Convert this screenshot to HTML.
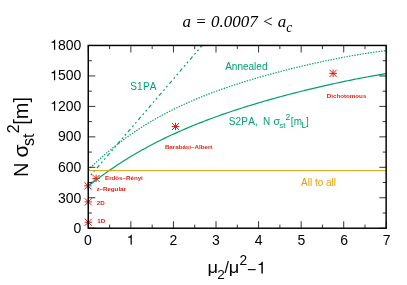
<!DOCTYPE html>
<html><head><meta charset="utf-8"><title>plot</title>
<style>html,body{margin:0;padding:0;background:#fff;}svg{display:block;will-change:transform;}text{font-family:"Liberation Sans",sans-serif;font-kerning:none;}.ser{font-family:"Liberation Serif",serif;font-style:italic;}</style>
</head><body>
<svg width="407" height="285" viewBox="0 0 407 285">
<rect width="407" height="285" fill="#fff"/>
<path d="M84.55,222.25 h7.50 M88.30,218.50 v7.50 M84.75,218.70 l7.10,7.10 M84.75,225.80 l7.10,-7.10 M84.55,201.90 h7.50 M88.30,198.15 v7.50 M84.75,198.35 l7.10,7.10 M84.75,205.45 l7.10,-7.10 M84.20,185.85 h7.50 M87.95,182.10 v7.50 M84.40,182.30 l7.10,7.10 M84.40,189.40 l7.10,-7.10 M92.35,178.45 h7.50 M96.10,174.70 v7.50 M92.55,174.90 l7.10,7.10 M92.55,182.00 l7.10,-7.10 M171.75,126.50 h7.50 M175.50,122.75 v7.50 M171.95,122.95 l7.10,7.10 M171.95,130.05 l7.10,-7.10 M329.35,73.40 h7.50 M333.10,69.65 v7.50 M329.55,69.85 l7.10,7.10 M329.55,76.95 l7.10,-7.10" stroke="#e51e10" stroke-width="1.0" fill="none"/>
<g fill="none" stroke="#009e73" stroke-width="1.2">
<path d="M88.30,186.07 L90.44,184.36 L92.59,182.69 L94.73,181.03 L96.88,179.40 L99.02,177.80 L101.16,176.21 L103.31,174.65 L105.45,173.12 L107.59,171.60 L109.74,170.11 L111.88,168.64 L114.03,167.18 L116.17,165.75 L118.31,164.34 L120.46,162.95 L122.60,161.58 L124.75,160.23 L126.89,158.90 L129.03,157.59 L131.18,156.29 L133.32,155.02 L135.47,153.76 L137.61,152.52 L139.75,151.30 L141.90,150.09 L144.04,148.90 L146.18,147.72 L148.33,146.57 L150.47,145.42 L152.62,144.30 L154.76,143.19 L156.90,142.09 L159.05,141.01 L161.19,139.94 L163.34,138.89 L165.48,137.85 L167.62,136.82 L169.77,135.81 L171.91,134.81 L174.06,133.83 L176.20,132.85 L178.34,131.89 L180.49,130.94 L182.63,130.01 L184.77,129.08 L186.92,128.17 L189.06,127.26 L191.21,126.37 L193.35,125.49 L195.49,124.62 L197.64,123.76 L199.78,122.91 L201.93,122.07 L204.07,121.24 L206.21,120.42 L208.36,119.61 L210.50,118.81 L212.65,118.02 L214.79,117.23 L216.93,116.46 L219.08,115.69 L221.22,114.93 L223.36,114.18 L225.51,113.44 L227.65,112.71 L229.80,111.98 L231.94,111.26 L234.08,110.55 L236.23,109.84 L238.37,109.15 L240.52,108.46 L242.66,107.77 L244.80,107.10 L246.95,106.42 L249.09,105.76 L251.24,105.10 L253.38,104.45 L255.52,103.81 L257.67,103.17 L259.81,102.53 L261.95,101.91 L264.10,101.28 L266.24,100.67 L268.39,100.06 L270.53,99.45 L272.67,98.85 L274.82,98.26 L276.96,97.67 L279.11,97.08 L281.25,96.50 L283.39,95.93 L285.54,95.36 L287.68,94.79 L289.83,94.23 L291.97,93.67 L294.11,93.12 L296.26,92.57 L298.40,92.03 L300.54,91.49 L302.69,90.96 L304.83,90.43 L306.98,89.91 L309.12,89.39 L311.26,88.87 L313.41,88.36 L315.55,87.85 L317.70,87.35 L319.84,86.85 L321.98,86.36 L324.13,85.86 L326.27,85.38 L328.42,84.90 L330.56,84.42 L332.70,83.95 L334.85,83.48 L336.99,83.01 L339.13,82.55 L341.28,82.10 L343.42,81.64 L345.57,81.20 L347.71,80.75 L349.85,80.32 L352.00,79.88 L354.14,79.45 L356.29,79.03 L358.43,78.61 L360.57,78.19 L362.72,77.78 L364.86,77.38 L367.01,76.98 L369.15,76.58 L371.29,76.19 L373.44,75.80 L375.58,75.42 L377.72,75.05 L379.87,74.68 L382.01,74.31 L384.16,73.96 L386.30,73.60"/>
<path d="M88.30,178.16 L202.08,45.50" stroke-dasharray="3.8 2.9 1.8 2.7 1.8 2.9" stroke-dashoffset="2.7"/>
<path d="M88.30,169.80 L90.44,167.69 L92.59,165.63 L94.73,163.60 L96.88,161.61 L99.02,159.65 L101.16,157.73 L103.31,155.85 L105.45,153.99 L107.59,152.17 L109.74,150.38 L111.88,148.63 L114.03,146.90 L116.17,145.21 L118.31,143.54 L120.46,141.91 L122.60,140.30 L124.75,138.73 L126.89,137.18 L129.03,135.65 L131.18,134.16 L133.32,132.69 L135.47,131.24 L137.61,129.83 L139.75,128.43 L141.90,127.06 L144.04,125.72 L146.18,124.39 L148.33,123.09 L150.47,121.82 L152.62,120.56 L154.76,119.33 L156.90,118.11 L159.05,116.92 L161.19,115.75 L163.34,114.59 L165.48,113.46 L167.62,112.34 L169.77,111.25 L171.91,110.17 L174.06,109.10 L176.20,108.06 L178.34,107.03 L180.49,106.02 L182.63,105.02 L184.77,104.04 L186.92,103.08 L189.06,102.13 L191.21,101.19 L193.35,100.27 L195.49,99.36 L197.64,98.47 L199.78,97.59 L201.93,96.72 L204.07,95.86 L206.21,95.02 L208.36,94.19 L210.50,93.37 L212.65,92.56 L214.79,91.76 L216.93,90.98 L219.08,90.20 L221.22,89.43 L223.36,88.68 L225.51,87.93 L227.65,87.20 L229.80,86.47 L231.94,85.75 L234.08,85.04 L236.23,84.34 L238.37,83.65 L240.52,82.96 L242.66,82.29 L244.80,81.62 L246.95,80.96 L249.09,80.30 L251.24,79.66 L253.38,79.02 L255.52,78.38 L257.67,77.76 L259.81,77.14 L261.95,76.53 L264.10,75.92 L266.24,75.32 L268.39,74.73 L270.53,74.14 L272.67,73.56 L274.82,72.98 L276.96,72.41 L279.11,71.84 L281.25,71.28 L283.39,70.73 L285.54,70.18 L287.68,69.64 L289.83,69.10 L291.97,68.56 L294.11,68.04 L296.26,67.51 L298.40,67.00 L300.54,66.48 L302.69,65.97 L304.83,65.47 L306.98,64.97 L309.12,64.48 L311.26,63.99 L313.41,63.51 L315.55,63.03 L317.70,62.56 L319.84,62.09 L321.98,61.63 L324.13,61.17 L326.27,60.72 L328.42,60.27 L330.56,59.83 L332.70,59.39 L334.85,58.96 L336.99,58.54 L339.13,58.12 L341.28,57.70 L343.42,57.29 L345.57,56.89 L347.71,56.50 L349.85,56.11 L352.00,55.72 L354.14,55.35 L356.29,54.97 L358.43,54.61 L360.57,54.25 L362.72,53.90 L364.86,53.56 L367.01,53.23 L369.15,52.90 L371.29,52.58 L373.44,52.27 L375.58,51.96 L377.72,51.67 L379.87,51.38 L382.01,51.10 L384.16,50.83 L386.30,50.57" stroke-dasharray="1.4 1.3"/>
</g>
<path d="M88.30,170.65 H386.30" stroke="#e69f00" stroke-width="1.0" fill="none"/>
<path d="M88.30,228.20 v-7 M88.30,45.50 v7 M109.59,228.20 v-3.6 M109.59,45.50 v3.6 M130.87,228.20 v-7 M130.87,45.50 v7 M152.16,228.20 v-3.6 M152.16,45.50 v3.6 M173.44,228.20 v-7 M173.44,45.50 v7 M194.73,228.20 v-3.6 M194.73,45.50 v3.6 M216.01,228.20 v-7 M216.01,45.50 v7 M237.30,228.20 v-3.6 M237.30,45.50 v3.6 M258.59,228.20 v-7 M258.59,45.50 v7 M279.87,228.20 v-3.6 M279.87,45.50 v3.6 M301.16,228.20 v-7 M301.16,45.50 v7 M322.44,228.20 v-3.6 M322.44,45.50 v3.6 M343.73,228.20 v-7 M343.73,45.50 v7 M365.01,228.20 v-3.6 M365.01,45.50 v3.6 M386.30,228.20 v-7 M386.30,45.50 v7 M88.30,228.20 h7 M386.30,228.20 h-7 M88.30,212.97 h3.6 M386.30,212.97 h-3.6 M88.30,197.75 h7 M386.30,197.75 h-7 M88.30,182.52 h3.6 M386.30,182.52 h-3.6 M88.30,167.30 h7 M386.30,167.30 h-7 M88.30,152.07 h3.6 M386.30,152.07 h-3.6 M88.30,136.85 h7 M386.30,136.85 h-7 M88.30,121.62 h3.6 M386.30,121.62 h-3.6 M88.30,106.40 h7 M386.30,106.40 h-7 M88.30,91.18 h3.6 M386.30,91.18 h-3.6 M88.30,75.95 h7 M386.30,75.95 h-7 M88.30,60.72 h3.6 M386.30,60.72 h-3.6 M88.30,45.50 h7 M386.30,45.50 h-7" stroke="#000" stroke-width="0.8" fill="none"/>
<rect x="88.25" y="45.45" width="297.90" height="182.77" fill="none" stroke="#000" stroke-width="1.45"/>
<g fill="#e51e10" font-size="6.2px" font-weight="bold">
<text x="97.2" y="223.3">1D</text>
<text x="96.7" y="204.5">2D</text>
<text x="96.4" y="190.6">z–Regular</text>
<text x="105.0" y="180.2">Erdös–Rényi</text>
<text x="164.9" y="148.7">Barabási–Albert</text>
<text x="326.8" y="98.1">Dichotomous</text>
</g>
<g fill="#009e73" font-size="10px">
<text x="130.2" y="89.6" letter-spacing="0.25">S1PA</text>
<text x="225.2" y="69.5">Annealed</text>
<text x="228.7" y="124.7" letter-spacing="0.22">S2PA,</text>
<text x="263.1" y="124.7">N</text>
<text transform="translate(273.4,124.7) scale(1.04,1)">σ</text>
<text x="279.3" y="127.7" font-size="8px">st</text>
<text x="285.6" y="120.3" font-size="8.5px">2</text>
<text x="290.7" y="124.7" letter-spacing="0.4">[m</text>
<text x="301.5" y="127.7" font-size="8.2px">L</text>
<text x="306.0" y="124.7">]</text>
</g>
<text x="301.0" y="185.9" fill="#e69f00" font-size="10px">All to all</text>
<g fill="#000" font-size="14px">
<text x="81.3" y="233.10" text-anchor="end">0</text>
<text x="81.3" y="202.53" text-anchor="end">300</text>
<text x="81.3" y="171.97" text-anchor="end">600</text>
<text x="81.3" y="141.40" text-anchor="end">900</text>
<text x="81.3" y="110.83" text-anchor="end">200</text>
<path d="M53.95,110.83 L53.95,103.76 L51.57,103.76 L51.57,102.88 C53.17,102.74 53.82,102.34 54.37,100.91 L55.18,100.91 L55.18,110.83 Z"/>
<text x="81.3" y="80.27" text-anchor="end">500</text>
<path d="M53.95,80.27 L53.95,73.20 L51.57,73.20 L51.57,72.31 C53.17,72.17 53.82,71.77 54.37,70.34 L55.18,70.34 L55.18,80.27 Z"/>
<text x="81.3" y="49.70" text-anchor="end">800</text>
<path d="M53.95,49.70 L53.95,42.63 L51.57,42.63 L51.57,41.75 C53.17,41.61 53.82,41.20 54.37,39.77 L55.18,39.77 L55.18,49.70 Z"/>
<text x="88.00" y="244.8" text-anchor="middle">0</text>
<path d="M130.57,244.80 L130.57,237.73 L128.19,237.73 L128.19,236.85 C129.79,236.71 130.45,236.30 130.99,234.87 L131.80,234.87 L131.80,244.80 Z"/>
<text x="173.34" y="244.8" text-anchor="middle">2</text>
<text x="216.01" y="244.8" text-anchor="middle">3</text>
<text x="258.69" y="244.8" text-anchor="middle">4</text>
<text x="301.36" y="244.8" text-anchor="middle">5</text>
<text x="344.03" y="244.8" text-anchor="middle">6</text>
<text x="386.70" y="244.8" text-anchor="middle">7</text>
</g>
<text class="ser" x="182.6" y="26.8" font-size="17px" fill="#000">a = 0.0007 &lt; a<tspan font-size="13.6px" dy="5.4">c</tspan></text>
<g fill="#000" font-size="16px">
<text transform="translate(207.4,273.4) scale(1.14,1)">μ</text>
<text x="217.2" y="278.6" font-size="13.5px">2</text>
<text x="224.6" y="273.4">/</text>
<text transform="translate(228.7,273.4) scale(1.14,1)">μ</text>
<text x="239.4" y="264.8" font-size="13.8px">2</text>
<text x="246.9" y="274.6">−</text>
<path d="M261.37,273.40 L261.37,265.07 L258.57,265.07 L258.57,264.03 C260.45,263.86 261.22,263.38 261.87,261.70 L262.82,261.70 L262.82,273.40 Z"/>
</g>
<g transform="translate(28.2,176.9) rotate(-90)" fill="#000" font-size="20px">
<text x="0" y="0">N</text>
<text x="19.3" y="0" font-size="21px">σ</text>
<text x="31.0" y="6.2" font-size="16px">st</text>
<text x="43.6" y="-9.7" font-size="16px">2</text>
<text x="52.2" y="0">[m]</text>
</g>
</svg></body></html>
